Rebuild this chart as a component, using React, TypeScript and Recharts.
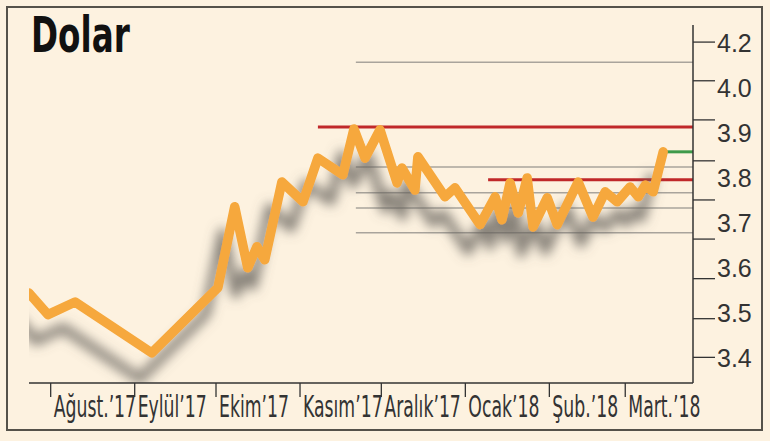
import React from 'react';
import { LineChart, Line, XAxis, YAxis, ReferenceLine } from 'recharts';

// days counted from 1 Aug 2017
const days = [-8, -1, 9, 37.3, 61.7, 67.9, 72.7, 76.1, 79, 85.3, 93.1, 98.6, 107.8, 111.9, 116, 121.5,
  127.8, 129.6, 134.4, 135.5, 145.5, 149.2, 158.4, 164, 166.5, 169.5, 172.5, 175.8, 178, 183.2, 186.9,
  194.6, 200.1, 204.6, 209, 213.8, 216.8, 219.4, 222.3, 226];
const rates = [3.544, 3.496, 3.524, 3.411, 3.556, 3.736, 3.6, 3.647, 3.618, 3.791, 3.747, 3.844, 3.807,
  3.909, 3.844, 3.907, 3.789, 3.822, 3.773, 3.847, 3.758, 3.778, 3.696, 3.758, 3.707, 3.789, 3.722, 3.8,
  3.691, 3.756, 3.696, 3.791, 3.713, 3.769, 3.747, 3.78, 3.758, 3.784, 3.769, 3.858];

const monthStarts = [0, 31, 61, 92, 122, 153, 184, 212];
const monthLabels = ['Ağust.’17', 'Eylül’17', 'Ekim’17', 'Kasım’17', 'Aralık’17', 'Ocak’18', 'Şub.’18', 'Mart.’18'];

const yTickValues = [3.4, 3.5, 3.6, 3.7, 3.8, 3.9, 4.0, 4.1];
const yTickLabels = ['3.4', '3.5', '3.6', '3.7', '3.8', '3.9', '4.0', '4.2'];
// short tick marks on the right axis, not aligned with the labels
const markTicks = [3.401, 3.487, 3.576, 3.664, 3.751, 3.838, 3.929, 4.016, 4.102];

const grayLevels = [4.057, 3.824, 3.767, 3.733, 3.678];
const grayStart = 112.6;
const redTop = 3.913;
const redTopStart = 98.6;
const redMid = 3.796;
const redMidStart = 161.4;
const greenLevel = 3.858;
const greenStart = 226;
const xEnd = 237;

const data = days.map((d, i) => ({ day: d, rate: rates[i] }));
const allYTicks = [...yTickValues, ...markTicks].sort((a, b) => a - b);

const FONT = '"Liberation Sans Narrow", "DejaVu Sans Condensed", sans-serif';

const MonthTick = (props: any) => {
  const { x, y, payload } = props;
  const i = monthStarts.indexOf(payload.value);
  return (
    <g>
      <line x1={x} y1={y} x2={x} y2={y + 14} stroke="#333" strokeWidth={1.3} />
      <text x={0} y={0} transform={`translate(${x + 3}, ${y + 34}) scale(0.64, 1)`}
        fontFamily={FONT} fontSize={30} fill="#333" textAnchor="start">
        {monthLabels[i]}
      </text>
    </g>
  );
};

const RateTick = (props: any) => {
  const { x, y, payload } = props;
  const i = yTickValues.indexOf(payload.value);
  if (i < 0) {
    return <line x1={x} y1={y} x2={x + 22} y2={y} stroke="#333" strokeWidth={1.3} />;
  }
  return (
    <text x={x + 24} y={y + 9} fontFamily='"Liberation Sans", sans-serif' fontSize={25} fill="#333">
      {yTickLabels[i]}
    </text>
  );
};

export default function App() {
  return (
    <div style={{ position: 'fixed', left: 0, top: 0, width: 770, height: 441, background: '#fdf2e0' }}>
      <svg width={0} height={0} style={{ position: 'absolute' }}>
        <defs>
          <filter id="lineShadow" filterUnits="userSpaceOnUse" x={0} y={0} width={770} height={441}>
            <feGaussianBlur in="SourceAlpha" stdDeviation={6} result="blur" />
            <feOffset in="blur" dx={-12} dy={26} result="off" />
            <feFlood floodColor="#66625c" floodOpacity={0.8} result="col" />
            <feComposite in="col" in2="off" operator="in" result="shadow" />
            <feMerge>
              <feMergeNode in="shadow" />
              <feMergeNode in="SourceGraphic" />
            </feMerge>
          </filter>
        </defs>
      </svg>
      <svg width={770} height={441} style={{ position: 'absolute', left: 0, top: 0 }}>
        <rect x={7} y={7} width={755} height={423} fill="none" stroke="#55524a" strokeWidth={2} />
        <text x={0} y={0} transform="translate(31, 52) scale(0.74, 1)" fontFamily={FONT}
          fontWeight="bold" fontSize={49} fill="#111">Dolar</text>
      </svg>
      <style>{`.shadow-line .recharts-line-curve { filter: url(#lineShadow); }`}</style>
      <div style={{ position: 'absolute', left: 0, top: 0 }}>
        <LineChart width={770} height={441} data={data} margin={{ top: 25, right: 7, bottom: 8, left: 29 }}>
          <XAxis dataKey="day" type="number" domain={[-8, xEnd]} ticks={monthStarts} height={50}
            axisLine={{ stroke: '#333', strokeWidth: 1.5 }} tickLine={false} tickSize={0} tickMargin={0}
            tick={<MonthTick />} interval={0} allowDataOverflow />
          <YAxis yAxisId="right" orientation="right" width={70} domain={[3.344, 4.14]} ticks={allYTicks}
            axisLine={{ stroke: '#333', strokeWidth: 1.5 }} tickLine={false} tickSize={0} tickMargin={0}
            tick={<RateTick />} interval={0} allowDataOverflow />
          {grayLevels.map((lv) => (
            <ReferenceLine key={lv} yAxisId="right" segment={[{ x: grayStart, y: lv }, { x: xEnd, y: lv }]}
              stroke="#a9a49c" strokeWidth={1.5} />
          ))}
          <ReferenceLine yAxisId="right" segment={[{ x: redTopStart, y: redTop }, { x: xEnd, y: redTop }]}
            stroke="#c0282a" strokeWidth={3} />
          <ReferenceLine yAxisId="right" segment={[{ x: redMidStart, y: redMid }, { x: xEnd, y: redMid }]}
            stroke="#c0282a" strokeWidth={3} />
          <ReferenceLine yAxisId="right" segment={[{ x: greenStart, y: greenLevel }, { x: xEnd, y: greenLevel }]}
            stroke="#3e9a4a" strokeWidth={3} />
          <Line yAxisId="right" dataKey="rate" className="shadow-line" stroke="#f6a83c" strokeWidth={9.5}
            dot={false} strokeLinejoin="round" strokeLinecap="round" isAnimationActive={false} />
        </LineChart>
      </div>
    </div>
  );
}
